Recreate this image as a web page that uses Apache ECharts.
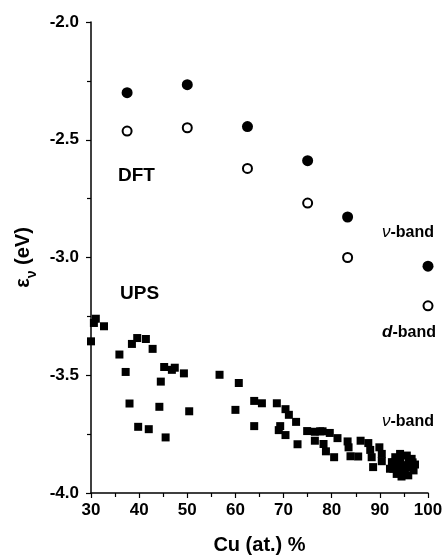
<!DOCTYPE html>
<html>
<head>
<meta charset="utf-8">
<script src="https://cdn.jsdelivr.net/npm/echarts@6/dist/echarts.min.js"></script>
<style>
  html, body { margin: 0; padding: 0; background: #fff; }
  #chart { width: 447px; height: 560px; }
</style>
</head>
<body>
<div id="chart"></div>
<script>
// DFT (calculated) band centres
var dftCu = [37.5, 50, 62.5, 75, 83.3, 100];
var dftVBand = [-2.30, -2.266, -2.444, -2.589, -2.828, -3.037];
var dftDBand = [-2.463, -2.449, -2.622, -2.769, -3.0, -3.205];

// UPS (measured) v-band
var upsCu = [30.0, 30.6, 31.0, 32.7, 35.9, 37.2, 38.0, 38.5, 39.6, 41.4, 42.8, 39.8, 42.0, 44.2, 44.5,
  45.2, 46.8, 47.4, 49.3, 45.5, 50.4, 56.7, 60.7, 60.0, 63.9, 65.5, 63.9, 68.6, 70.4, 71.1,
  72.6, 69.3, 69.0, 70.4, 72.9, 74.9, 76.5, 77.6, 78.1, 79.6, 76.5, 78.3, 78.8, 80.5, 81.2,
  83.3, 83.5, 83.9, 85.5, 86.0, 87.6, 88.0, 88.3, 88.6, 89.9, 90.4, 90.4, 92.5, 93.2, 94.2,
  95.6, 96.6, 97.3, 97.0, 95.9, 94.5, 93.5, 92.8, 94.9, 95.9, 94.2, 95.2, 92.1, 96.5, 93.8,
  93.0, 96.0, 94.0, 96.8];
var upsEnergy = [-3.356, -3.278, -3.260, -3.292, -3.412, -3.486, -3.620, -3.367, -3.342, -3.346, -3.388, -3.719, -3.729, -3.634, -3.527,
  -3.465, -3.477, -3.468, -3.492, -3.764, -3.653, -3.498, -3.533, -3.647, -3.609, -3.619, -3.716, -3.619, -3.644, -3.668,
  -3.698, -3.716, -3.733, -3.754, -3.793, -3.737, -3.740, -3.738, -3.738, -3.745, -3.778, -3.792, -3.823, -3.848, -3.767,
  -3.781, -3.806, -3.844, -3.845, -3.778, -3.788, -3.817, -3.848, -3.890, -3.806, -3.834, -3.865, -3.869, -3.848, -3.834,
  -3.841, -3.855, -3.879, -3.904, -3.925, -3.930, -3.919, -3.897, -3.883, -3.880, -3.860, -3.904, -3.897, -3.890, -3.890,
  -3.870, -3.860, -3.910, -3.870];

function pairs(xs, ys) {
  return xs.map(function (x, i) { return [x, ys[i]]; });
}

var font = 'Liberation Sans, Arial, sans-serif';
var chart = echarts.init(document.getElementById('chart'));

var option = {
  animation: false,
  grid: { left: 91, right: 19, top: 22, bottom: 64 },
  xAxis: {
    type: 'value',
    min: 30, max: 100, interval: 10,
    name: 'Cu (at.) %',
    nameLocation: 'middle',
    nameGap: 42,
    nameTextStyle: { fontSize: 20, fontWeight: 'bold', color: '#000', fontFamily: font },
    axisLine: { show: true, lineStyle: { color: '#000', width: 1.5 } },
    axisTick: { show: true, length: 5, lineStyle: { color: '#000', width: 1.2 } },
    minorTick: { show: true, splitNumber: 2, length: 4, lineStyle: { color: '#000', width: 1.2 } },
    splitLine: { show: false },
    axisLabel: { fontSize: 17, fontWeight: 'bold', color: '#000', fontFamily: font, margin: 9 }
  },
  yAxis: {
    type: 'value',
    min: -4, max: -2, interval: 0.5,
    name: '{e|ε}{s|ν}{e| (eV)}',
    nameLocation: 'middle',
    nameRotate: 90,
    nameGap: 50,
    nameTextStyle: {
      rich: {
        e: { fontSize: 20, fontWeight: 'bold', color: '#000', fontFamily: font },
        s: { fontSize: 14, fontWeight: 'bold', color: '#000', fontFamily: font, verticalAlign: 'bottom', padding: [16, 0, 0, 0] }
      }
    },
    axisLine: { show: true, lineStyle: { color: '#000', width: 1.5 } },
    axisTick: { show: true, length: 5, lineStyle: { color: '#000', width: 1.2 } },
    minorTick: { show: true, splitNumber: 2, length: 4, lineStyle: { color: '#000', width: 1.2 } },
    splitLine: { show: false },
    axisLabel: {
      fontSize: 17, fontWeight: 'bold', color: '#000', fontFamily: font, margin: 12,
      formatter: function (v) { return v.toFixed(1); }
    }
  },
  graphic: [
    { type: 'text', left: 118, top: 166, style: { text: 'DFT', fontSize: 19, fontWeight: 'bold', fill: '#000', fontFamily: font } },
    { type: 'text', left: 120, top: 284, style: { text: 'UPS', fontSize: 19, fontWeight: 'bold', fill: '#000', fontFamily: font } },
    { type: 'text', left: 382, top: 224, style: { text: '{i|ν}-band', rich: { i: { fontStyle: 'italic', fontSize: 17, fill: '#000', fontFamily: font } }, fontSize: 16, fontWeight: 'bold', fill: '#000', fontFamily: font } },
    { type: 'text', left: 382, top: 324, style: { text: '{i|d}-band', rich: { i: { fontStyle: 'italic', fontWeight: 'bold', fontSize: 17, fill: '#000', fontFamily: font } }, fontSize: 16, fontWeight: 'bold', fill: '#000', fontFamily: font } },
    { type: 'text', left: 382, top: 413, style: { text: '{i|ν}-band', rich: { i: { fontStyle: 'italic', fontSize: 17, fill: '#000', fontFamily: font } }, fontSize: 16, fontWeight: 'bold', fill: '#000', fontFamily: font } }
  ],
  series: [
    {
      name: 'UPS',
      type: 'scatter',
      symbol: 'rect',
      symbolSize: 8,
      clip: false,
      itemStyle: { color: '#000', opacity: 1 },
      data: pairs(upsCu, upsEnergy)
    },
    {
      name: 'DFT v-band',
      type: 'scatter',
      symbol: 'circle',
      symbolSize: 11,
      itemStyle: { color: '#000', opacity: 1 },
      data: pairs(dftCu, dftVBand)
    },
    {
      name: 'DFT d-band',
      type: 'scatter',
      symbol: 'circle',
      symbolSize: 9,
      itemStyle: { color: '#fff', borderColor: '#000', borderWidth: 2, opacity: 1 },
      data: pairs(dftCu, dftDBand)
    }
  ]
};

chart.setOption(option);
</script>
</body>
</html>
